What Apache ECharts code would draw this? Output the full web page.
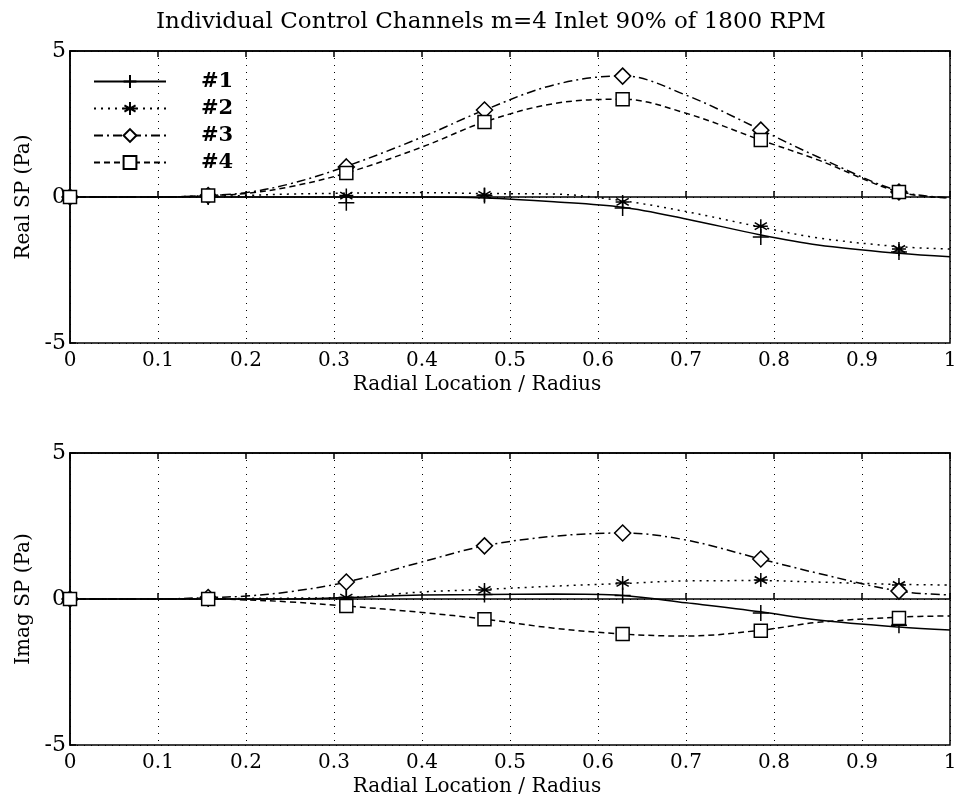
<!DOCTYPE html>
<html>
<head>
<meta charset="utf-8">
<script src="https://cdn.jsdelivr.net/npm/echarts@6/dist/echarts.min.js"></script>
<style>
  html, body { margin: 0; padding: 0; background: #fff; }
  #chart { width: 960px; height: 806px; }
</style>
</head>
<body>
<div id="chart"></div>
<script>
var curveX = [0, 0.1, 0.157, 0.2, 0.25, 0.314, 0.4, 0.471, 0.55, 0.628, 0.7, 0.785, 0.85, 0.942, 1];
// x positions of the measured markers
var markX = [0, 0.157, 0.314, 0.471, 0.628, 0.785, 0.942];

// Real SP (Pa), curves
var realCurve1 = [0, 0, 0, 0, 0, 0, 0, -0.03, -0.16, -0.35, -0.75, -1.3, -1.64, -1.93, -2.05];
var realCurve2 = [0, 0, 0.02, 0.05, 0.1, 0.13, 0.15, 0.12, 0.1, -0.13, -0.5, -1.03, -1.4, -1.7, -1.78];
var realCurve3 = [0, 0, 0.05, 0.15, 0.45, 1.05, 2.05, 2.98, 3.84, 4.15, 3.49, 2.3, 1.37, 0.2, -0.03];
var realCurve4 = [0, 0, 0.05, 0.12, 0.35, 0.82, 1.71, 2.57, 3.2, 3.35, 2.87, 1.95, 1.27, 0.17, -0.03];
// Real SP (Pa), markers
var realMark1 = [0, 0, -0.2, 0.05, -0.38, -1.37, -1.88];
var realMark2 = [0, 0, 0.05, 0.07, -0.17, -1.0, -1.78];
var realMark3 = [0, 0.05, 1.03, 2.98, 4.14, 2.29, 0.17];
var realMark4 = [0, 0.05, 0.82, 2.57, 3.35, 1.95, 0.17];

// Imag SP (Pa), curves
var imagCurve1 = [0, 0, 0, 0, 0, 0.05, 0.14, 0.15, 0.17, 0.12, -0.13, -0.44, -0.72, -0.96, -1.06];
var imagCurve2 = [0, 0, 0, 0.02, 0.03, 0.05, 0.24, 0.33, 0.44, 0.53, 0.62, 0.63, 0.58, 0.5, 0.48];
var imagCurve3 = [0, 0, 0.05, 0.1, 0.25, 0.58, 1.27, 1.82, 2.15, 2.26, 2.02, 1.37, 0.88, 0.27, 0.14];
var imagCurve4 = [0, 0, 0, -0.03, -0.1, -0.24, -0.46, -0.69, -1.0, -1.2, -1.27, -1.07, -0.8, -0.62, -0.58];
// Imag SP (Pa), markers
var imagMark1 = [0, 0, 0.05, 0.15, 0.12, -0.48, -0.9];
var imagMark2 = [0, 0, 0.05, 0.31, 0.55, 0.65, 0.48];
var imagMark3 = [0, 0.05, 0.58, 1.82, 2.26, 1.37, 0.27];
var imagMark4 = [0, 0, -0.24, -0.69, -1.2, -1.09, -0.65];

var names = ['#1', '#2', '#3', '#4'];
var yTicks = [-5, 0, 5];

var FONT = 'DejaVu Serif';
var PLUS = 'path://M0,-1L0,1M-1,0L1,0';
var STAR = 'path://M0,-1L0,1M-0.87,-0.5L0.87,0.5M-0.87,0.5L0.87,-0.5M-1,0L1,0';
var styles = [
  {line: 'solid', symbol: PLUS, size: 16, fill: 'none'},
  {line: [2, 5], symbol: STAR, size: 14, fill: 'none'},
  {line: [9, 4, 2, 4], symbol: 'diamond', size: 16, fill: '#fff'},
  {line: [6, 4], symbol: 'rect', size: 13, fill: '#fff'}
];

function zip(xs, ys) {
  var out = [];
  for (var i = 0; i < xs.length; i++) out.push([xs[i], ys[i]]);
  return out;
}

function xAxisFor(gridIndex, top) {
  return {
    type: 'value', gridIndex: gridIndex, position: top ? 'top' : 'bottom',
    min: 0, max: 1, interval: 0.1,
    name: top ? '' : 'Radial Location / Radius',
    nameLocation: 'middle', nameGap: 32,
    nameTextStyle: {fontFamily: FONT, fontSize: 20, color: '#000', padding: [0, 66, 0, 0]},
    axisLine: {show: true, lineStyle: {color: '#000', width: 1.5}},
    axisTick: {show: true, inside: true, length: 6, lineStyle: {color: '#000', width: 1.5}},
    axisLabel: {show: !top, fontFamily: FONT, fontSize: 20, color: '#000', margin: 8,
      formatter: function(v) { return String(Math.round(v * 10) / 10); }},
    splitLine: {show: !top, lineStyle: {color: '#000', width: 1, type: [1, 6]}}
  };
}

function yAxisFor(gridIndex, name) {
  return {
    type: 'value', gridIndex: gridIndex,
    min: yTicks[0], max: yTicks[yTicks.length - 1], interval: 5,
    name: name, nameLocation: 'middle', nameGap: 36,
    nameTextStyle: {fontFamily: FONT, fontSize: 20, color: '#000'},
    axisLine: {show: true, lineStyle: {color: '#000', width: 1.5}},
    axisTick: {show: true, inside: true, length: 6, lineStyle: {color: '#000', width: 1.5}},
    axisLabel: {fontFamily: FONT, fontSize: 22, color: '#000', margin: 4},
    splitLine: {show: true, lineStyle: {color: '#000', width: 1, type: [1, 6]}}
  };
}

var series = [];
function addPanel(xIndex, yIndex, curves, marks) {
  for (var k = 0; k < 4; k++) {
    var st = styles[k];
    series.push({
      name: names[k], type: 'line', xAxisIndex: xIndex, yAxisIndex: yIndex,
      data: zip(curveX, curves[k]), smooth: 0.35, showSymbol: false,
      symbol: st.symbol, symbolSize: st.size,
      itemStyle: {color: st.fill, borderColor: '#000', borderWidth: 1.5},
      lineStyle: {color: '#000', width: 1.5, type: st.line},
      z: 3
    });
  }
  for (var k = 0; k < 4; k++) {
    var st = styles[k];
    series.push({
      name: names[k], type: 'scatter', xAxisIndex: xIndex, yAxisIndex: yIndex,
      data: zip(markX, marks[k]),
      symbol: st.symbol, symbolSize: st.size,
      itemStyle: {color: st.fill, borderColor: '#000', borderWidth: 1.5, opacity: 1},
      z: 4
    });
  }
}

addPanel(0, 0, [realCurve1, realCurve2, realCurve3, realCurve4], [realMark1, realMark2, realMark3, realMark4]);
addPanel(1, 1, [imagCurve1, imagCurve2, imagCurve3, imagCurve4], [imagMark1, imagMark2, imagMark3, imagMark4]);

var chart = echarts.init(document.getElementById('chart'));
chart.setOption({
  backgroundColor: '#fff',
  animation: false,
  title: {
    text: 'Individual Control Channels m=4 Inlet 90% of 1800 RPM',
    left: 151, top: 6,
    textStyle: {fontFamily: FONT, fontSize: 23, fontWeight: 'normal', color: '#000'}
  },
  legend: {
    data: names, orient: 'vertical', left: 88, top: 66,
    itemWidth: 72, itemHeight: 16, itemGap: 6,
    textStyle: {fontFamily: FONT, fontSize: 21, fontWeight: 'bold', color: '#000', padding: [0, 0, 0, 30]},
    selectedMode: false
  },
  grid: [
    {left: 70, right: 10, top: 51, height: 292, show: true, borderColor: '#000', borderWidth: 1.5},
    {left: 70, right: 10, top: 453, height: 292, show: true, borderColor: '#000', borderWidth: 1.5}
  ],
  xAxis: [xAxisFor(0, false), xAxisFor(1, false), xAxisFor(0, true), xAxisFor(1, true)],
  yAxis: [yAxisFor(0, 'Real SP (Pa)'), yAxisFor(1, 'Imag SP (Pa)')],
  series: series
});
</script>
</body>
</html>
